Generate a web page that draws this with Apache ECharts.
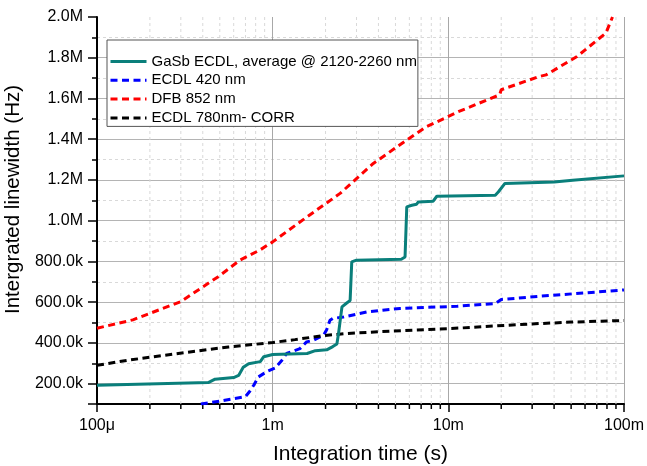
<!DOCTYPE html>
<html>
<head>
<meta charset="utf-8">
<script src="https://cdn.jsdelivr.net/npm/echarts@6/dist/echarts.min.js"></script>
<style>html,body{margin:0;padding:0;background:#fff}#c{width:647px;height:466px}</style>
</head>
<body>
<div id="c"></div>
<script>
// ---- data (x: integration time in s, y: integrated linewidth in kHz) ----
const seriesNames = ['GaSb ECDL, average @ 2120-2260 nm', 'ECDL 420 nm', 'DFB 852 nm', 'ECDL 780nm- CORR'];

const gasbX = [1e-4, 4.3e-4, 4.7e-4, 6.0e-4, 6.4e-4, 6.8e-4, 7.3e-4, 8.5e-4, 8.9e-4, 1.0e-3, 1.57e-3, 1.75e-3, 2.03e-3, 2.2e-3, 2.32e-3, 2.37e-3, 2.48e-3, 2.64e-3, 2.76e-3, 2.82e-3, 3.0e-3, 5.4e-3, 5.67e-3, 5.8e-3, 6.2e-3, 6.6e-3, 6.75e-3, 8.2e-3, 8.6e-3, 1.85e-2, 1.93e-2, 2.1e-2, 4.0e-2, 5.1e-2, 0.1];
const gasbY = [192, 205, 222, 230, 240, 280, 298, 308, 332, 343, 348, 362, 366, 382, 395, 445, 577, 596, 608, 798, 806, 811, 822, 1068, 1076, 1081, 1092, 1096, 1120, 1125, 1142, 1183, 1190, 1199, 1220];

const ecdl420X = [3.9e-4, 5.0e-4, 7.0e-4, 7.45e-4, 7.8e-4, 8.3e-4, 9.3e-4, 1.03e-3, 1.13e-3, 1.2e-3, 1.43e-3, 1.56e-3, 1.71e-3, 1.95e-3, 2.03e-3, 2.12e-3, 2.2e-3, 2.53e-3, 3.43e-3, 5.3e-3, 1.12e-2, 1.85e-2, 2.0e-2, 3.3e-2, 5.9e-2, 0.1];
const ecdl420Y = [100, 114, 136, 165, 192, 233, 260, 276, 315, 348, 372, 405, 413, 438, 465, 511, 520, 527, 552, 569, 580, 593, 613, 629, 645, 660];

const dfbX = [1e-4, 1.6e-4, 3.0e-4, 4.9e-4, 6.5e-4, 8.5e-4, 1.0e-3, 1.57e-3, 2.42e-3, 3.74e-3, 5.8e-3, 7.5e-3, 1.14e-2, 1.96e-2, 2.0e-2, 3.3e-2, 3.6e-2, 5.4e-2, 7.9e-2, 8.6e-2];
const dfbY = [472, 513, 603, 725, 806, 857, 896, 1019, 1134, 1281, 1396, 1461, 1535, 1618, 1643, 1708, 1716, 1806, 1922, 2000];

const corrX = [1e-4, 1.5e-4, 2.9e-4, 5.6e-4, 1.0e-3, 1.34e-3, 1.95e-3, 2.64e-3, 4.1e-3, 1.17e-2, 2.5e-2, 5.0e-2, 0.1];
const corrY = [290, 315, 348, 380, 402, 416, 436, 446, 455, 473, 490, 502, 510];

const xTickValues = [1e-4, 1e-3, 1e-2, 1e-1];
const xTickLabels = ['100\u03bc', '1m', '10m', '100m'];
const xMinorMultipliers = [2, 3, 4, 5, 6, 7, 8, 9];
const yTickValues = [200000, 400000, 600000, 800000, 1000000, 1200000, 1400000, 1600000, 1800000, 2000000];
const yTickLabels = ['200.0k', '400.0k', '600.0k', '800.0k', '1.0M', '1.2M', '1.4M', '1.6M', '1.8M', '2.0M'];

// ---- build ----
const Y_MIN = 100000, Y_MAX = 2000000;
const pair = (xs, ys) => xs.map((x, i) => [x, ys[i] * 1000]);
const xMinor = [];
xTickValues.slice(0, -1).forEach(d => xMinorMultipliers.forEach(m => xMinor.push([m * d, Y_MIN])));

const FONT = '"Liberation Sans", Arial, sans-serif';
const chart = echarts.init(document.getElementById('c'), null, {renderer: 'canvas'});

const yLabelFmt = v => {
  const i = yTickValues.findIndex(t => Math.abs(t - v) < 1);
  return i >= 0 ? yTickLabels[i] : '';
};
const xLabelFmt = v => {
  const i = xTickValues.findIndex(t => Math.abs(Math.log10(t) - Math.log10(v)) < 1e-6);
  return i >= 0 ? xTickLabels[i] : '';
};

const majorColors = [];
for (let i = 0; i < 10; i++) majorColors.push('#b4b4b4');
majorColors.push('rgba(0,0,0,0)');

const dashStyle = (c) => ({color: c, width: 3, type: [7, 4.5]});

chart.setOption({
  animation: false,
  backgroundColor: '#fff',
  textStyle: {fontFamily: FONT},
  grid: {left: 97, right: 23, top: 17, bottom: 62, containLabel: false, outerBoundsMode: 'none'},
  legend: {
    data: seriesNames,
    orient: 'vertical',
    left: 107, top: 40,
    padding: [14, 1, 1, 2],
    itemWidth: 36, itemHeight: 14, itemGap: 3.8,
    backgroundColor: '#fff',
    borderColor: '#555', borderWidth: 1, borderRadius: 0,
    lineStyle: {width: 3, type: 'inherit'},
    itemStyle: {opacity: 0},
    textStyle: {fontSize: 15, color: '#000', fontFamily: FONT, lineHeight: 14},
    selectedMode: false
  },
  xAxis: {
    type: 'log', logBase: 10, min: 1e-4, max: 0.1,
    name: 'Integration time (s)', nameLocation: 'middle', nameGap: 40,
    nameTextStyle: {fontSize: 21, color: '#000', fontFamily: FONT},
    axisLine: {show: true, onZero: false, lineStyle: {color: '#000', width: 2}},
    axisTick: {show: true, length: 8, lineStyle: {color: '#000', width: 1.5}},
    axisLabel: {fontSize: 16, color: '#000', margin: 14, formatter: xLabelFmt, fontFamily: FONT},
    splitLine: {show: true, lineStyle: {color: '#a8a8a8', width: 1}},
    minorTick: {show: false}
  },
  yAxis: [{
    type: 'value', min: Y_MIN, max: Y_MAX, splitNumber: 10,
    name: 'Intergrated linewidth (Hz)', nameLocation: 'middle', nameGap: 70,
    nameTextStyle: {fontSize: 20.5, color: '#000', fontFamily: FONT, padding: [0, 0, 0, 22]},
    axisLine: {show: true, onZero: false, lineStyle: {color: '#000', width: 2}},
    axisTick: {show: true, length: 9, lineStyle: {color: '#000', width: 1.5}},
    axisLabel: {fontSize: 16, color: '#000', margin: 14, formatter: yLabelFmt, fontFamily: FONT},
    splitLine: {show: true, lineStyle: {color: majorColors, width: 1}}
  }, {
    type: 'value', min: Y_MIN, max: Y_MAX, interval: 100000, position: 'left',
    axisLine: {show: false},
    axisTick: {show: true, length: 5, lineStyle: {color: '#000', width: 1.5}},
    axisLabel: {show: false},
    splitLine: {show: true, lineStyle: {color: ['#d9d9d9', 'rgba(0,0,0,0)'], width: 1, type: [3, 3]}}
  }],
  series: [
    {
      type: 'custom', silent: true, z: 1, clip: false,
      data: xMinor, encode: {x: 0, y: 1},
      renderItem: (params, api) => {
        const x = api.value(0);
        const b = api.coord([x, Y_MIN]);
        const t = api.coord([x, Y_MAX]);
        return {type: 'group', children: [
          {type: 'line', shape: {x1: b[0], y1: b[1], x2: t[0], y2: t[1]}, style: {stroke: '#d9d9d9', lineWidth: 1, lineDash: [3, 3]}},
          {type: 'line', shape: {x1: b[0], y1: b[1], x2: b[0], y2: b[1] + 5}, style: {stroke: '#000', lineWidth: 1.5}}
        ]};
      }
    },
    {name: seriesNames[1], type: 'line', data: pair(ecdl420X, ecdl420Y), symbol: 'none', showSymbol: false, lineStyle: dashStyle('#0000ff'), color: '#0000ff', z: 3},
    {name: seriesNames[2], type: 'line', data: pair(dfbX, dfbY), symbol: 'none', showSymbol: false, lineStyle: dashStyle('#ff0000'), color: '#ff0000', z: 3},
    {name: seriesNames[3], type: 'line', data: pair(corrX, corrY), symbol: 'none', showSymbol: false, lineStyle: dashStyle('#000000'), color: '#000000', z: 3},
    {name: seriesNames[0], type: 'line', data: pair(gasbX, gasbY), symbol: 'none', showSymbol: false, lineStyle: {color: '#0a7f7b', width: 3}, color: '#0a7f7b', z: 4}
  ]
});
</script>
</body>
</html>
